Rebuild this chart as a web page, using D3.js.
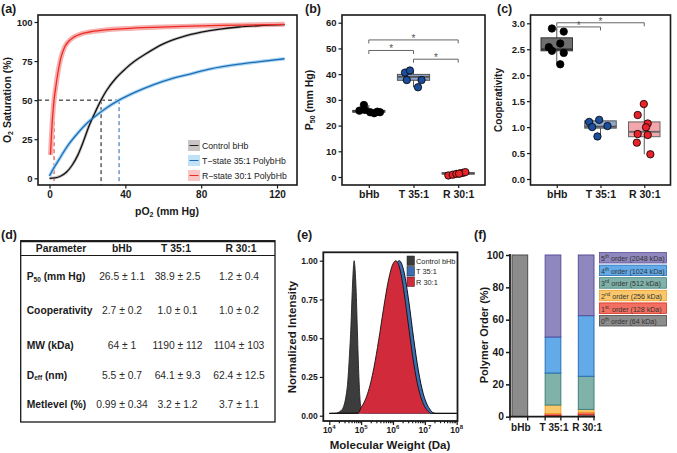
<!DOCTYPE html>
<html><head><meta charset="utf-8">
<script src="https://cdn.jsdelivr.net/npm/d3@7"></script>
<style>
body{margin:0;background:#fff}
svg{font-family:"Liberation Sans",Arial,sans-serif}
</style></head><body>
<svg id="fig" width="677" height="453"></svg>
<script>
// ================= DATA =================
// (a) oxygen equilibrium curves
const controlPO2 = [0,3,6,9,12,15,18,21,24,27.2,30,35,40,45,50,60,70,80,90,100,110,124];
const controlSat = [0,0.3,1.5,4,8.5,15,24,34,42,50,56,64,70,75,79,86,90.5,93.5,95.5,96.8,97.6,98.3];
const tPO2 = [0,2,5,10,15,20,25,30,36.7,45,55,65,75,85,100,110,124];
const tSat = [1.5,6,12,21.5,29,35.5,40.5,45,50,55,60,64,67,70,73,74.5,76.5];
const rPO2 = [0.5,1,1.5,2,2.4,3.5,4.5,6,8,10,13,17,22,30,40,55,70,90,110,124];
const rSat = [15,27,37,45,50,60,68,77,84,87.5,90.5,92.5,93.8,95,95.8,96.6,97.2,97.8,98.2,98.5];
const p50Lines = [2.4, 27.2, 36.7];           // dashed P50 markers: R, control, T
const aLegend = ["Control bHb","T\u2212state 35:1 PolybHb","R\u2212state 30:1 PolybHb"];
const aXTicks = [0,40,80,120];
const aYTicks = [0,25,50,75,100];

// (b) P50 scatter / boxes
const groups = ["bHb","T 35:1","R 30:1"];
const p50bHb = [25.8,28.0,26.1,25.2,24.8,25.4,25.2];
const p50bHbJit = [-0.21,-0.11,-0.085,0.03,0.12,0.19,0.25];
const p50T = [40.6,41.4,37.7,37.7,34.9];
const p50TJit = [-0.19,-0.08,-0.15,0.18,0.10];
const p50R = [0.6,0.9,1.2,1.4,1.6,1.9,1.3];
const p50RJit = [-0.22,-0.12,-0.04,0.04,0.10,0.16,0.02];
const p50Box = [ // q1, median, q3, lo, hi
  [25.2,25.5,25.9,24.8,28.0],
  [37.6,38.9,39.9,34.9,41.4],
  [1.1,1.4,1.7,0.6,1.9]];
const bYTicks = [0,10,20,30,40,50,60];
const bSig = [[0,2,53.3],[0,1,49.2],[1,2,45.8]]; // from, to, bracket height

// (c) cooperativity
const coopbHb = [2.90,2.84,2.61,2.54,2.47,2.43,2.21];
const coopbHbJit = [-0.11,0.16,0.08,-0.18,-0.11,0.16,0.08];
const coopT = [1.10,1.14,1.00,1.02,0.82];
const coopTJit = [-0.26,-0.03,-0.19,0.16,-0.07];
const coopR = [1.445,1.233,1.07,0.996,0.867,0.848,0.70,0.476];
const coopRJit = [-0.01,-0.15,0.08,0.04,-0.15,0.08,-0.17,0.14];
const coopBox = [
  [2.47,2.50,2.72,2.21,2.90],
  [0.98,1.01,1.12,0.82,1.14],
  [0.815,0.91,1.10,0.476,1.445]];
const cYTicks = [0,0.5,1,1.5,2,2.5,3];
const cSig = [[0,2,3.01],[0,1,2.93]];

// (d) table
const tableHead = ["Parameter","bHb","T 35:1","R 30:1"];
const tableLabels = [["P","50"," (mm Hg)"],["Cooperativity","",""],["MW (kDa)","",""],["D","eff","  (nm)"],["Metlevel (%)","",""]];
const tableBHb = ["26.5 \u00b1 1.1","2.7 \u00b1 0.2","64 \u00b1 1","5.5 \u00b1 0.7","0.99 \u00b1 0.34"];
const tableT = ["38.9 \u00b1 2.5","1.0 \u00b1 0.1","1190 \u00b1 112","64.1 \u00b1 9.3","3.2 \u00b1 1.2"];
const tableR = ["1.2 \u00b1 0.4","1.0 \u00b1 0.2","1104 \u00b1 103","62.4 \u00b1 12.5","3.7 \u00b1 1.1"];

// (e) molecular weight distributions (log10 MW, normalized intensity)
const eCtrlLog = [4.0,4.2,4.35,4.45,4.52,4.58,4.63,4.68,4.72,4.755,4.78,4.80,4.84,4.88,4.92,4.96,5.0,5.05,5.2,8.0];
const eCtrlInt = [0.015,0.016,0.03,0.06,0.12,0.22,0.38,0.58,0.80,0.95,1.0,0.97,0.82,0.56,0.30,0.12,0.04,0.018,0.015,0.015];
const eTLog = [4.0,4.9,5.0,5.1,5.2,5.3,5.4,5.55,5.7,5.85,6.0,6.1,6.2,6.35,6.5,6.65,6.8,6.95,7.05,7.15,7.25,7.35,8.0];
const eTInt = [0.015,0.016,0.033,0.057,0.094,0.147,0.22,0.368,0.554,0.749,0.91,0.977,1.0,0.925,0.732,0.496,0.288,0.142,0.082,0.044,0.02,0.015,0.015];
const eRLog = [4.0,4.9,5.0,5.1,5.2,5.3,5.4,5.55,5.7,5.85,6.0,6.09,6.2,6.35,6.5,6.65,6.8,6.92,7.02,7.1,7.2,8.0];
const eRInt = [0.015,0.016,0.053,0.089,0.141,0.214,0.309,0.487,0.687,0.867,0.98,1.0,0.959,0.791,0.559,0.338,0.175,0.092,0.05,0.029,0.015,0.015];
const eLegend = ["Control bHb","T 35:1","R 30:1"];
const eXTicks = [1e4,1e5,1e6,1e7,1e8];
const eYTicks = [0,0.25,0.5,0.75,1];

// (f) polymer order distribution (%)
const order0 = [100,0.8,1.2];
const order1 = [0,1.2,1.5];
const order2 = [0,5.2,1.8];
const order3 = [0,19.8,20.5];
const order4 = [0,22.3,37.5];
const order5 = [0,50.7,37.5];
const fLegend = [["5","th"," order (2048 kDa)"],["4","th"," order (1024 kDa)"],["3","rd"," order (512 kDa)"],["2","nd"," order (256 kDa)"],["1","st."," order (128 kDa)"],["0","th"," order (64 kDa)"]];
const fYTicks = [0,20,40,60,80,100];

// ================= DRAW =================
const svg = d3.select("#fig");
const INK = "#1a1a1a";

function styleAxis(g, fs, weight=700){
  g.attr("font-family",null).attr("font-size",null);
  g.selectAll("text").attr("font-size",fs).attr("font-weight",weight).attr("fill",INK)
   .style("font-family","'Liberation Sans',Arial,sans-serif");
  g.selectAll(".tick line").attr("stroke",INK).attr("stroke-width",1.2);
}
function panelLabel(x,y,s){
  svg.append("text").attr("x",x).attr("y",y).text(s).attr("font-size",12.5).attr("font-weight",700).attr("fill",INK);
}

// ---------- (a) ----------
{
  const A = {l:38,t:15,r:297,b:185};
  const xA = d3.scaleLinear().domain([0,120]).range([49.5,277]);
  const yA = d3.scaleLinear().domain([0,100]).range([178.3,22]);
  const g = svg.append("g");
  g.append("clipPath").attr("id","clipA").append("rect").attr("x",A.l).attr("y",A.t).attr("width",A.r-A.l).attr("height",A.b-A.t);
  const cg = g.append("g").attr("clip-path","url(#clipA)");
  cg.append("line").attr("x1",A.l).attr("x2",xA(p50Lines[2])).attr("y1",yA(50)).attr("y2",yA(50))
    .attr("stroke","#111").attr("stroke-width",1).attr("stroke-dasharray","4,3");
  const dcol = ["#e8231f","#111","#1f63aa"];
  p50Lines.forEach((p,i)=>{
    cg.append("line").attr("x1",xA(p)).attr("x2",xA(p)).attr("y1",yA(50)).attr("y2",A.b)
      .attr("stroke",dcol[i]).attr("stroke-width",1).attr("stroke-dasharray","4,3");
  });
  const curves = [
    {x:controlPO2,y:controlSat,c:"#111",band:"#c4c0c0",bw:3},
    {x:tPO2,y:tSat,c:"#1f6cb4",band:"#a9d7f3",bw:3.5},
    {x:rPO2,y:rSat,c:"#ee2a24",band:"#f6b0b0",bw:5}];
  curves.forEach(cv=>{
    const line = d3.line().x((d,i)=>xA(cv.x[i])).y((d,i)=>yA(cv.y[i])).curve(d3.curveMonotoneX);
    cg.append("path").attr("d",line(cv.x)).attr("fill","none").attr("stroke",cv.band).attr("stroke-width",cv.bw).attr("stroke-linecap","butt");
  });
  curves.forEach(cv=>{
    const line = d3.line().x((d,i)=>xA(cv.x[i])).y((d,i)=>yA(cv.y[i])).curve(d3.curveMonotoneX);
    cg.append("path").attr("d",line(cv.x)).attr("fill","none").attr("stroke",cv.c).attr("stroke-width",1.3);
  });
  const lk = [["#c9c5c5","#222"],["#bfe2f6","#1f6cb4"],["#f9c4c4","#ee2a24"]];
  aLegend.forEach((s,i)=>{
    const y = 140 + i*15;
    g.append("rect").attr("x",188).attr("y",y).attr("width",12).attr("height",11).attr("fill",lk[i][0]);
    g.append("line").attr("x1",189.5).attr("x2",198.5).attr("y1",y+5.5).attr("y2",y+5.5).attr("stroke",lk[i][1]).attr("stroke-width",1);
    g.append("text").attr("x",202).attr("y",y+8.5).text(s).attr("font-size",8.7).attr("fill","#222");
  });
  g.append("rect").attr("x",A.l).attr("y",A.t).attr("width",A.r-A.l).attr("height",A.b-A.t)
    .attr("fill","none").attr("stroke",INK).attr("stroke-width",1.6);
  const ay = g.append("g").attr("transform",`translate(${A.l},0)`).call(d3.axisLeft(yA).tickValues(aYTicks).tickSize(3.5).tickPadding(2));
  ay.select(".domain").remove(); styleAxis(ay,9.5);
  const ax = g.append("g").attr("transform",`translate(0,${A.b})`).call(d3.axisBottom(xA).tickValues(aXTicks).tickSize(3.5).tickPadding(2));
  ax.select(".domain").remove(); styleAxis(ax,10);
  const yt = g.append("text").attr("transform","translate(11,100) rotate(-90)").attr("text-anchor","middle")
    .attr("font-size",10.5).attr("font-weight",700).attr("fill",INK);
  yt.append("tspan").text("O");
  yt.append("tspan").text("2").attr("font-size",7).attr("dy",2);
  yt.append("tspan").text(" Saturation (%)").attr("dy",-2);
  const xt = g.append("text").attr("x",167).attr("y",215).attr("text-anchor","middle")
    .attr("font-size",10.5).attr("font-weight",700).attr("fill",INK);
  xt.append("tspan").text("pO");
  xt.append("tspan").text("2").attr("font-size",7).attr("dy",2);
  xt.append("tspan").text(" (mm Hg)").attr("dy",-2);
  panelLabel(1,13,"(a)");
}

// ---------- shared box/scatter panel ----------
function boxPanel(P, yDomain, yRange, yTicks, tickFmt, sets, boxes, boxFill, boxStroke, sig, titleFn){
  const g = svg.append("g");
  const x = d3.scaleLinear().domain([0.4,3.6]).range([P.l,P.r]);
  const y = d3.scaleLinear().domain(yDomain).range(yRange);
  const hw = 0.36;
  boxes.forEach((b,i)=>{
    const cx = x(i+1);
    g.append("line").attr("x1",cx).attr("x2",cx).attr("y1",y(b[3])).attr("y2",y(b[4])).attr("stroke","#444").attr("stroke-width",0.9);
    g.append("rect").attr("x",x(i+1-hw)).attr("width",x(i+1+hw)-x(i+1-hw))
      .attr("y",y(b[2])).attr("height",Math.max(1.5,y(b[0])-y(b[2])))
      .attr("fill",boxFill[i]).attr("stroke",boxStroke[i]).attr("stroke-width",1);
    g.append("line").attr("x1",x(i+1-hw)).attr("x2",x(i+1+hw)).attr("y1",y(b[1])).attr("y2",y(b[1])).attr("stroke",boxStroke[i]).attr("stroke-width",1.8);
  });
  const ptFill = ["#000","#1b4f9c","#e8232a"];
  sets.forEach((s,i)=>{
    s.v.forEach((v,k)=>{
      g.append("circle").attr("cx",x(i+1+s.j[k])).attr("cy",y(v)).attr("r",3.7)
        .attr("fill",ptFill[i]).attr("stroke","#000").attr("stroke-width",0.8);
    });
  });
  sig.forEach(s=>{
    const x1 = x(s[0]+1), x2 = x(s[1]+1), yy = y(s[2]);
    g.append("path").attr("d",`M${x1},${yy+3.5}V${yy}H${x2}V${yy+3.5}`).attr("fill","none").attr("stroke","#555").attr("stroke-width",0.9);
    g.append("text").attr("x",(x1+x2)/2).attr("y",yy+1.8).attr("text-anchor","middle").text("*").attr("font-size",10).attr("fill","#555");
  });
  g.append("rect").attr("x",P.l).attr("y",P.t).attr("width",P.r-P.l).attr("height",P.b-P.t)
    .attr("fill","none").attr("stroke",INK).attr("stroke-width",1.6);
  const ay = g.append("g").attr("transform",`translate(${P.l},0)`).call(d3.axisLeft(y).tickValues(yTicks).tickFormat(tickFmt).tickSize(3.5).tickPadding(2));
  ay.select(".domain").remove(); styleAxis(ay,9.5);
  const xb = d3.scaleOrdinal().domain(groups).range([x(1),x(2),x(3)]);
  const ax = g.append("g").attr("transform",`translate(0,${P.b})`).call(d3.axisBottom(xb).tickSize(3).tickPadding(3));
  ax.select(".domain").remove(); styleAxis(ax,10.5);
  titleFn(g);
}

// ---------- (b) ----------
boxPanel({l:342,t:15,r:485,b:185},[0,60],[177,22.7],bYTicks,d3.format("d"),
  [{v:p50bHb,j:p50bHbJit},{v:p50T,j:p50TJit},{v:p50R,j:p50RJit}],
  p50Box,["#8a8a8a","#8aa2c6","#f19da3"],["#444","#555","#555"],bSig,
  g=>{
    const t = g.append("text").attr("transform","translate(313,100) rotate(-90)").attr("text-anchor","middle")
      .attr("font-size",10.5).attr("font-weight",700).attr("fill",INK);
    t.append("tspan").text("P");
    t.append("tspan").text("50").attr("font-size",7).attr("dy",2);
    t.append("tspan").text(" (mm Hg)").attr("dy",-2);
  });
panelLabel(305,13,"(b)");

// ---------- (c) ----------
boxPanel({l:530.5,t:15,r:670.5,b:185},[0,3],[179,23.3],cYTicks,d3.format(".1f"),
  [{v:coopbHb,j:coopbHbJit},{v:coopT,j:coopTJit},{v:coopR,j:coopRJit}],
  coopBox,["#6f6f6f","#8ea8cd","#f3a6ac"],["#333","#555","#666"],cSig,
  g=>{
    g.append("text").attr("transform","translate(502,100) rotate(-90)").attr("text-anchor","middle")
      .attr("font-size",10).attr("font-weight",700).attr("fill",INK).text("Cooperativity");
  });
panelLabel(497,13,"(c)");

// ---------- (d) table ----------
{
  const g = svg.append("g");
  const T = {l:20.7,t:240.7,r:275,b:422,hb:255.5};
  const colX = [26.7,122,177.5,239];
  const headX = [61,122,176,241];
  const rowY = [276.7,310.7,345,375,404];
  g.append("rect").attr("x",T.l).attr("y",T.t).attr("width",T.r-T.l).attr("height",T.b-T.t).attr("fill","none").attr("stroke",INK).attr("stroke-width",1.3);
  g.append("line").attr("x1",T.l).attr("x2",T.r).attr("y1",T.t+0.8).attr("y2",T.t+0.8).attr("stroke",INK).attr("stroke-width",1.5);
  g.append("line").attr("x1",T.l).attr("x2",T.r).attr("y1",T.hb).attr("y2",T.hb).attr("stroke",INK).attr("stroke-width",1);
  tableHead.forEach((h,i)=>{
    g.append("text").attr("x",headX[i]).attr("y",251.5).attr("text-anchor","middle").text(h)
      .attr("font-size",10.3).attr("font-weight",700).attr("fill",INK);
  });
  tableLabels.forEach((lab,r)=>{
    const t = g.append("text").attr("x",colX[0]).attr("y",rowY[r]+3.7).attr("font-size",10.3).attr("font-weight",700).attr("fill",INK);
    t.append("tspan").text(lab[0]);
    if(lab[1]){ t.append("tspan").text(lab[1]).attr("font-size",6.5).attr("dy",1.5); t.append("tspan").text(lab[2]).attr("dy",-1.5); }
    [tableBHb,tableT,tableR].forEach((col,c)=>{
      g.append("text").attr("x",colX[c+1]).attr("y",rowY[r]+3.7).attr("text-anchor","middle").text(col[r])
        .attr("font-size",10.3).attr("fill","#2a2a2a");
    });
  });
  panelLabel(1,239,"(d)");
}

// ---------- (e) ----------
{
  const E = {l:323.3,t:252.3,r:457.5,b:421};
  const xE = d3.scaleLog().domain([1e4,1e8]).range([329.3,456.7]);
  const yE = d3.scaleLinear().domain([0,1]).range([415.7,260.7]);
  const g = svg.append("g");
  const base = 0.015;
  const dists = [
    {lx:eCtrlLog,iy:eCtrlInt,f:"#3c3c3c",s:"#222"},
    {lx:eTLog,iy:eTInt,f:"#3b6fb3",s:"#000"},
    {lx:eRLog,iy:eRInt,f:"#d12b3b",s:"#111"}];
  dists.forEach(d=>{
    const ar = d3.area().x((v,i)=>xE(Math.pow(10,d.lx[i]))).y0(yE(base)).y1((v,i)=>yE(d.iy[i])).curve(d3.curveMonotoneX);
    const ln = d3.line().x((v,i)=>xE(Math.pow(10,d.lx[i]))).y((v,i)=>yE(d.iy[i])).curve(d3.curveMonotoneX);
    g.append("path").attr("d",ar(d.lx)).attr("fill",d.f);
    g.append("path").attr("d",ln(d.lx)).attr("fill","none").attr("stroke",d.s).attr("stroke-width",0.9);
  });
  const lf = ["#3c3c3c","#3b6fb3","#d12b3b"];
  eLegend.forEach((s,i)=>{
    const y = 256 + i*10.5;
    g.append("rect").attr("x",407).attr("y",y).attr("width",7.5).attr("height",9.5).attr("fill",lf[i]).attr("stroke","#222").attr("stroke-width",0.5);
    g.append("text").attr("x",416).attr("y",y+7.6).text(s).attr("font-size",7.4).attr("fill","#222");
  });
  g.append("rect").attr("x",E.l).attr("y",E.t).attr("width",E.r-E.l).attr("height",E.b-E.t).attr("fill","none").attr("stroke",INK).attr("stroke-width",1.8);
  const minor = [];
  for(let k=4;k<8;k++) for(let m=2;m<10;m++) minor.push(m*Math.pow(10,k));
  const axm = g.append("g").attr("transform",`translate(0,${E.b})`).call(d3.axisBottom(xE).tickValues(minor).tickSize(2.2).tickFormat(""));
  axm.select(".domain").remove(); styleAxis(axm,8);
  const ax = g.append("g").attr("transform",`translate(0,${E.b})`).call(d3.axisBottom(xE).tickValues(eXTicks).tickSize(4).tickFormat(""));
  ax.select(".domain").remove(); styleAxis(ax,8);
  eXTicks.forEach(v=>{
    const t = g.append("text").attr("x",xE(v)).attr("y",432.5).attr("text-anchor","middle").attr("font-size",8.5).attr("font-weight",700).attr("fill",INK);
    t.append("tspan").text("10");
    t.append("tspan").text(String(Math.round(Math.log10(v)))).attr("font-size",6).attr("dy",-4);
  });
  const ay = g.append("g").attr("transform",`translate(${E.l},0)`).call(d3.axisLeft(yE).tickValues(eYTicks).tickFormat(d3.format(".2f")).tickSize(3.5).tickPadding(2));
  ay.select(".domain").remove(); styleAxis(ay,8.5);
  g.append("text").attr("x",390).attr("y",449).attr("text-anchor","middle").text("Molecular Weight (Da)")
    .attr("font-size",11.5).attr("font-weight",700).attr("fill",INK);
  g.append("text").attr("transform","translate(296,337) rotate(-90)").attr("text-anchor","middle").text("Normalized Intensity")
    .attr("font-size",11.5).attr("font-weight",700).attr("fill",INK);
  panelLabel(297,239,"(e)");
}

// ---------- (f) ----------
{
  const g = svg.append("g");
  const yF = d3.scaleLinear().domain([0,100]).range([416.7,255]);
  const xF = d3.scaleBand().domain(groups).range([512,594]).paddingInner(0.527).paddingOuter(0);
  const keys = ["o0","o1","o2","o3","o4","o5"];
  const rows = groups.map((gname,i)=>({g:gname,o0:order0[i],o1:order1[i],o2:order2[i],o3:order3[i],o4:order4[i],o5:order5[i]}));
  const stack = d3.stack().keys(keys)(rows);
  const fills = ["#8c8c8c","#f36f61","#fac86b","#80b2aa","#62aae8","#8f88be"];
  const strokes = ["#4a4a4a","#d8301f","#f29f2a","#3f807a","#2a6fb8","#5a4f9a"];
  stack.forEach((layer,li)=>{
    layer.forEach(seg=>{
      const h = yF(seg[0]) - yF(seg[1]);
      if(h<=0) return;
      g.append("rect").attr("x",xF(seg.data.g)).attr("width",xF.bandwidth())
        .attr("y",yF(seg[1])).attr("height",h)
        .attr("fill",fills[li]).attr("stroke",strokes[li]).attr("stroke-width",1);
    });
  });
  g.append("line").attr("x1",510).attr("x2",510).attr("y1",254).attr("y2",417.5).attr("stroke",INK).attr("stroke-width",1.8);
  g.append("line").attr("x1",509).attr("x2",595).attr("y1",416.7).attr("y2",416.7).attr("stroke",INK).attr("stroke-width",1.8);
  const ay = g.append("g").attr("transform","translate(510,0)").call(d3.axisLeft(yF).tickValues(fYTicks).tickSize(4).tickPadding(2));
  ay.select(".domain").remove(); styleAxis(ay,10.3);
  ay.selectAll(".tick line").attr("stroke-width",1.5);
  const edges = [510];
  groups.forEach(gn=>{ if(gn!==groups[0]) edges.push(xF(gn)); edges.push(xF(gn)+xF.bandwidth()); });
  edges.forEach(ex=>g.append("line").attr("x1",ex).attr("x2",ex).attr("y1",416.7).attr("y2",420.5).attr("stroke",INK).attr("stroke-width",1.3));
  groups.forEach(gn=>{
    g.append("text").attr("x",xF(gn)+xF.bandwidth()/2+1).attr("y",431).attr("text-anchor","middle").text(gn)
      .attr("font-size",10).attr("font-weight",700).attr("fill",INK);
  });
  g.append("text").attr("transform","translate(488,335) rotate(-90)").attr("text-anchor","middle").text("Polymer Order (%)")
    .attr("font-size",11).attr("font-weight",700).attr("fill",INK);
  const lfill = fills.slice().reverse(), lstroke = strokes.slice().reverse();
  fLegend.forEach((lab,i)=>{
    const y = 252.5 + i*12.6;
    g.append("rect").attr("x",599.5).attr("y",y).attr("width",67).attr("height",10.5)
      .attr("fill",lfill[i]).attr("stroke",lstroke[i]).attr("stroke-width",0.8);
    const t = g.append("text").attr("x",601).attr("y",y+8.6).attr("font-size",7.1).attr("fill","#333");
    t.append("tspan").text(lab[0]);
    t.append("tspan").text(lab[1]).attr("font-size",4.8).attr("dy",-3);
    t.append("tspan").text(lab[2]).attr("dy",3);
  });
  panelLabel(474,239,"(f)");
}
</script>
</body></html>
